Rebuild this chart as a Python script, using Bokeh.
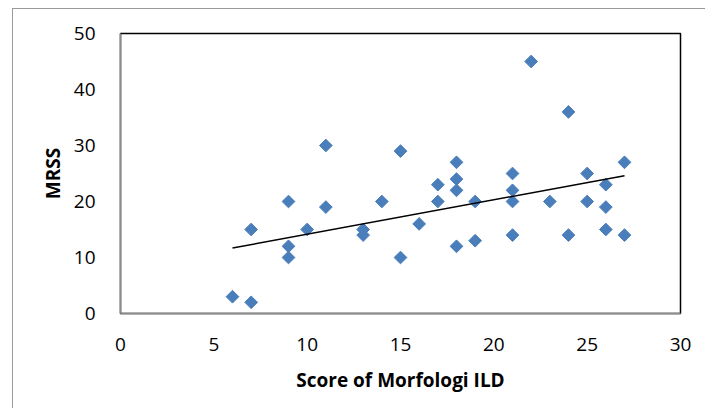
import numpy as np
from bokeh.plotting import figure
from bokeh.models import Range1d, FixedTicker, ColumnDataSource
from bokeh.embed import file_html
from bokeh.resources import INLINE

# Data
morfologi_ild = [6, 7, 7, 9, 9, 9, 10, 11, 11, 13, 13, 14, 15, 15, 16, 17, 17, 18, 18, 18,
                 18, 19, 19, 21, 21, 21, 21, 22, 23, 24, 24, 25, 25, 26, 26, 26, 27, 27]
mrss = [3, 2, 15, 20, 12, 10, 15, 30, 19, 15, 14, 20, 29, 10, 16, 23, 20, 27, 24, 22,
        12, 20, 13, 25, 22, 20, 14, 45, 20, 36, 14, 25, 20, 23, 19, 15, 27, 14]
# Linear trend line end points
trend_x = [6, 27]
trend_y = [11.7, 24.6]
x_ticks = [0, 5, 10, 15, 20, 25, 30]
y_ticks = [0, 10, 20, 30, 40, 50]

FONT = "Open Sans"

p = figure(width=693, height=400, output_backend="svg", toolbar_location=None,
           x_range=Range1d(0, 30), y_range=Range1d(0, 50),
           min_border_left=107, min_border_right=26, min_border_top=24, min_border_bottom=96,
           styles={"margin-left": "12px", "margin-top": "8px",
                   "border-left": "1px solid #9a9a9a",
                   "border-top": "1px solid #9a9a9a"})

p.xgrid.visible = False
p.ygrid.visible = False
p.outline_line_color = "black"
p.outline_line_width = 1.5

for ax in (p.xaxis[0], p.yaxis[0]):
    ax.axis_line_color = "#8c8c8c"
    ax.axis_line_width = 1.5
    ax.major_tick_line_color = None
    ax.minor_tick_line_color = None
    ax.major_tick_out = 0
    ax.major_tick_in = 0
    ax.major_label_text_font = FONT
    ax.major_label_text_font_size = "19px"
    ax.major_label_text_color = "black"
    ax.axis_label_text_font = FONT
    ax.axis_label_text_font_style = "bold"
    ax.axis_label_text_font_size = "19px"
    ax.axis_label_text_color = "black"

p.xaxis.ticker = FixedTicker(ticks=x_ticks)
p.yaxis.ticker = FixedTicker(ticks=y_ticks)
p.xaxis.major_label_standoff = 24
p.yaxis.major_label_standoff = 25
p.xaxis.axis_label = "Score of Morfologi ILD"
p.yaxis.axis_label = "MRSS"
p.xaxis.axis_label_standoff = 13
p.yaxis.axis_label_standoff = 5

src = ColumnDataSource(dict(x=morfologi_ild, y=mrss))
p.scatter("x", "y", source=src, marker="square", angle=np.pi / 4, size=9,
          fill_color="#4a7ebb", line_color="#4a7ebb")

p.line(trend_x, trend_y, line_color="black", line_width=1.5)

open("out.html", "w").write(file_html(p, INLINE))
